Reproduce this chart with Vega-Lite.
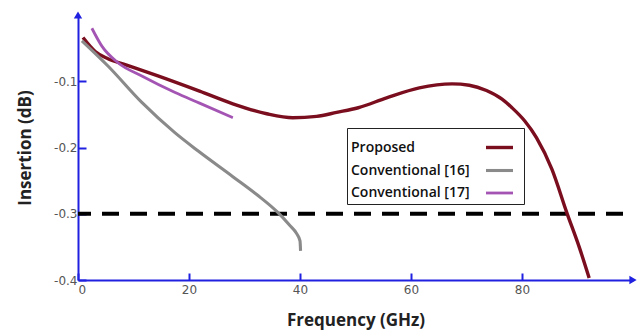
{
  "$schema": "https://vega.github.io/schema/vega-lite/v6.json",
  "width": 555,
  "height": 265,
  "autosize": {"type": "none"},
  "padding": {"left": 78, "top": 15, "right": 4, "bottom": 56},
  "background": "white",
  "config": {"view": {"stroke": null}},
  "datasets": {
    "curves": [
      {"series": "Proposed", "f": 0.9, "v": -0.034},
      {"series": "Proposed", "f": 3.1, "v": -0.055},
      {"series": "Proposed", "f": 5.4, "v": -0.066},
      {"series": "Proposed", "f": 8.5, "v": -0.075},
      {"series": "Proposed", "f": 14.4, "v": -0.092},
      {"series": "Proposed", "f": 21.9, "v": -0.115},
      {"series": "Proposed", "f": 27.9, "v": -0.134},
      {"series": "Proposed", "f": 34.0, "v": -0.149},
      {"series": "Proposed", "f": 38.7, "v": -0.155},
      {"series": "Proposed", "f": 43.0, "v": -0.153},
      {"series": "Proposed", "f": 46.6, "v": -0.147},
      {"series": "Proposed", "f": 50.5, "v": -0.140},
      {"series": "Proposed", "f": 55.6, "v": -0.125},
      {"series": "Proposed", "f": 61.5, "v": -0.110},
      {"series": "Proposed", "f": 67.4, "v": -0.104},
      {"series": "Proposed", "f": 70.5, "v": -0.106},
      {"series": "Proposed", "f": 73.6, "v": -0.114},
      {"series": "Proposed", "f": 76.4, "v": -0.127},
      {"series": "Proposed", "f": 78.2, "v": -0.140},
      {"series": "Proposed", "f": 80.5, "v": -0.160},
      {"series": "Proposed", "f": 82.6, "v": -0.185},
      {"series": "Proposed", "f": 85.4, "v": -0.233},
      {"series": "Proposed", "f": 88.1, "v": -0.299},
      {"series": "Proposed", "f": 90.3, "v": -0.350},
      {"series": "Proposed", "f": 92.1, "v": -0.397},
      {"series": "Conventional [16]", "f": 0.7, "v": -0.039},
      {"series": "Conventional [16]", "f": 5.4, "v": -0.077},
      {"series": "Conventional [16]", "f": 11.5, "v": -0.132},
      {"series": "Conventional [16]", "f": 17.5, "v": -0.178},
      {"series": "Conventional [16]", "f": 21.6, "v": -0.205},
      {"series": "Conventional [16]", "f": 27.9, "v": -0.244},
      {"series": "Conventional [16]", "f": 32.2, "v": -0.271},
      {"series": "Conventional [16]", "f": 36.0, "v": -0.298},
      {"series": "Conventional [16]", "f": 38.1, "v": -0.317},
      {"series": "Conventional [16]", "f": 39.4, "v": -0.330},
      {"series": "Conventional [16]", "f": 40.0, "v": -0.341},
      {"series": "Conventional [16]", "f": 40.1, "v": -0.356},
      {"series": "Conventional [17]", "f": 2.5, "v": -0.020},
      {"series": "Conventional [17]", "f": 4.3, "v": -0.047},
      {"series": "Conventional [17]", "f": 7.2, "v": -0.072},
      {"series": "Conventional [17]", "f": 11.5, "v": -0.092},
      {"series": "Conventional [17]", "f": 17.5, "v": -0.117},
      {"series": "Conventional [17]", "f": 21.9, "v": -0.133},
      {"series": "Conventional [17]", "f": 27.9, "v": -0.155}
    ],
    "limit": [{"f": 0, "v": -0.3, "f2": 100}],
    "arrows": [
      {"f": 0, "v": 0, "dir": "up"},
      {"f": 100, "v": -0.4, "dir": "right"}
    ]
  },
  "layer": [
    {
      "data": {"name": "limit"},
      "mark": {"type": "rule", "color": "black", "strokeWidth": 4, "strokeDash": [17, 11], "strokeDashOffset": 4, "clip": false},
      "encoding": {
        "x": {"field": "f", "type": "quantitative", "scale": {"domain": [0, 100]}},
        "x2": {"field": "f2"},
        "y": {"field": "v", "type": "quantitative"}
      }
    },
    {
      "data": {"name": "curves"},
      "mark": {"type": "line", "interpolate": "monotone"},
      "encoding": {
        "x": {
          "field": "f", "type": "quantitative",
          "scale": {"domain": [0, 100], "nice": false},
          "axis": {
            "title": "Frequency (GHz)",
            "values": [0, 20, 40, 60, 80],
            "domainColor": "#2020e0", "domainWidth": 2,
            "tickColor": "#2020e0", "tickWidth": 2, "tickSize": -7,
            "labelColor": "#555555", "labelFontSize": 12, "labelFont": "DejaVu Sans",
            "labelPadding": 11, "grid": false,
            "titleFont": "Open Sans", "titleFontSize": 17, "titleFontWeight": "bold",
            "titleColor": "#222222", "titlePadding": 17
          }
        },
        "y": {
          "field": "v", "type": "quantitative",
          "scale": {"domain": [-0.4, 0], "nice": false},
          "axis": {
            "title": "Insertion (dB)",
            "values": [-0.4, -0.3, -0.2, -0.1],
            "labelExpr": "'-' + format(-datum.value, '.1f')",
            "domainColor": "#2020e0", "domainWidth": 2,
            "tickColor": "#2020e0", "tickWidth": 2, "tickSize": -8,
            "labelColor": "#555555", "labelFontSize": 12, "labelFont": "DejaVu Sans",
            "labelPadding": 9, "grid": false,
            "titleFont": "Open Sans", "titleFontSize": 17, "titleFontWeight": "bold",
            "titleColor": "#222222", "titlePadding": 19
          }
        },
        "color": {
          "field": "series", "type": "nominal",
          "scale": {
            "domain": ["Proposed", "Conventional [16]", "Conventional [17]"],
            "range": ["#7a0e1e", "#8a8a8a", "#a455b4"]
          },
          "legend": {
            "title": null,
            "orient": "none",
            "legendX": 269,
            "legendY": 113,
            "strokeColor": "#222222",
            "fillColor": "white",
            "padding": 4,
            "symbolType": "stroke",
            "symbolSize": 729,
            "symbolStrokeWidth": 4,
            "labelOffset": -164,
            "symbolOffset": 133,
            "labelFont": "Open Sans",
            "labelFontSize": 14,
            "labelFontWeight": 600,
            "labelColor": "#111111",
            "rowPadding": 0,
            "labelLimit": 200
          }
        },
        "strokeWidth": {
          "field": "series", "type": "nominal",
          "scale": {"domain": ["Proposed", "Conventional [16]", "Conventional [17]"], "range": [3.4, 2.8, 3.2]},
          "legend": null
        }
      }
    },
    {
      "data": {"name": "arrows"},
      "mark": {"type": "point", "filled": true, "color": "#2020e0", "opacity": 1, "size": 70, "clip": false},
      "encoding": {
        "x": {"field": "f", "type": "quantitative"},
        "y": {"field": "v", "type": "quantitative"},
        "shape": {
          "field": "dir", "type": "nominal",
          "scale": {"domain": ["up", "right"], "range": ["triangle-up", "triangle-right"]},
          "legend": null
        }
      }
    }
  ]
}
